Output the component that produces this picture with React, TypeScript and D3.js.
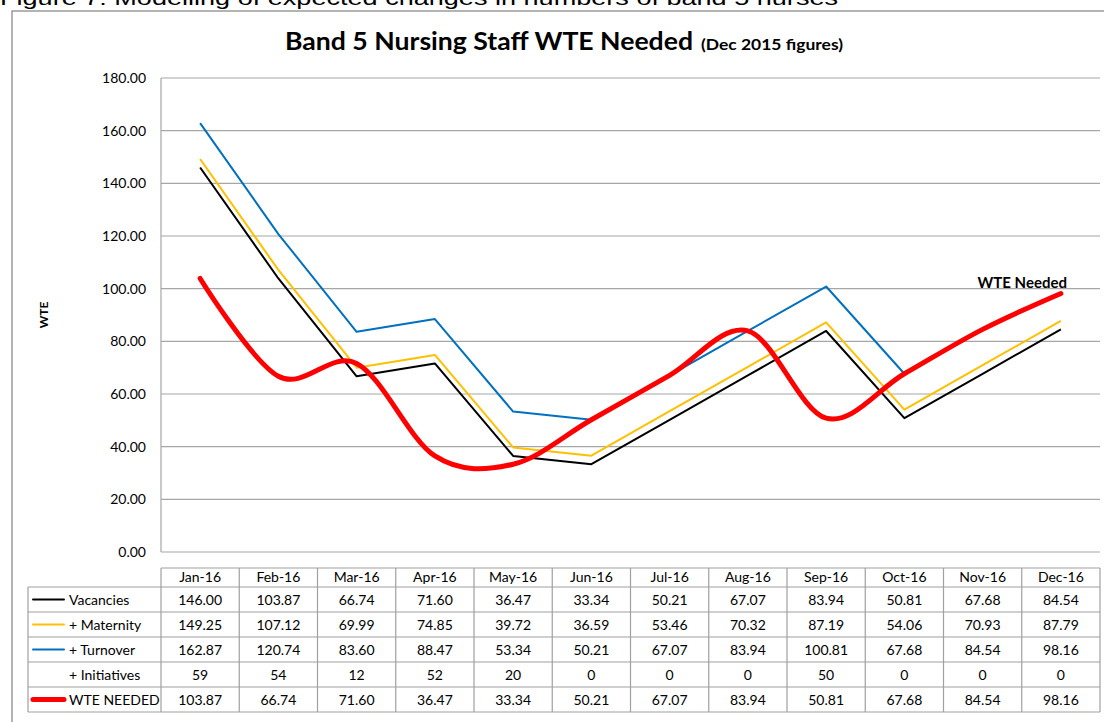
import React from "react";
import * as d3 from "d3";

const months = ["Jan-16","Feb-16","Mar-16","Apr-16","May-16","Jun-16","Jul-16","Aug-16","Sep-16","Oct-16","Nov-16","Dec-16"];
const vacancies = [146.00,103.87,66.74,71.60,36.47,33.34,50.21,67.07,83.94,50.81,67.68,84.54];
const maternity = [149.25,107.12,69.99,74.85,39.72,36.59,53.46,70.32,87.19,54.06,70.93,87.79];
const turnover = [162.87,120.74,83.60,88.47,53.34,50.21,67.07,83.94,100.81,67.68,84.54,98.16];
const initiatives = [59,54,12,52,20,0,0,0,50,0,0,0];
const wteNeeded = [103.87,66.74,71.60,36.47,33.34,50.21,67.07,83.94,50.81,67.68,84.54,98.16];
const yTicks = [0,20,40,60,80,100,120,140,160,180];

const FONT = "Lato, 'Open Sans', sans-serif";
const GRID = "#a6a6a6";
const BORDER = "#a0a0a0";

export default function App() {
  const x = d3.scaleBand<string>().domain(months).range([161, 1100]);
  const y = d3.scaleLinear().domain([0, 180]).range([552, 78]);
  const cx = (m: string) => (x(m) as number) + x.bandwidth() / 2;

  const straight = d3.line<number>().x((_, i) => cx(months[i])).y((d) => y(d));
  const smooth = d3.line<number>().x((_, i) => cx(months[i])).y((d) => y(d)).curve(d3.curveCardinal.tension(0));

  const rows = [
    { label: "Vacancies", data: vacancies, fmt: d3.format(".2f"), color: "#000000", w: 2 },
    { label: "+ Maternity", data: maternity, fmt: d3.format(".2f"), color: "#FFC000", w: 2 },
    { label: "+ Turnover", data: turnover, fmt: d3.format(".2f"), color: "#0070C0", w: 2 },
    { label: "+ Initiatives", data: initiatives, fmt: d3.format("d"), color: null, w: 0 },
    { label: "WTE NEEDED", data: wteNeeded, fmt: d3.format(".2f"), color: "#FF0000", w: 5 },
  ];
  const headerTop = 568, headerBottom = 587, rowH = 25;
  const left = 161, right = 1100, legLeft = 28;

  return (
    <svg width={1104} height={722} style={{ position: "absolute", left: 0, top: 0, background: "#fff" }}>
      <rect x={0} y={0} width={1104} height={722} fill="#fff" />
      <text x={0} y={5} fontFamily="'Liberation Sans', Arial, sans-serif" fontSize={21} fill="#000" textLength={838} lengthAdjust="spacingAndGlyphs">Figure 7: Modelling of expected changes in numbers of band 5 nurses</text>
      <rect x={12} y={11} width={1100} height={730} fill="none" stroke="#8c8c8c" strokeWidth={1.3} />

      <text y={50} fontFamily={FONT} fontWeight="bold" fill="#000">
        <tspan x={285} fontSize={25} textLength={408} lengthAdjust="spacingAndGlyphs">Band 5 Nursing Staff WTE Needed</tspan>
        <tspan x={701} fontSize={16} textLength={142} lengthAdjust="spacingAndGlyphs">(Dec 2015 figures)</tspan>
      </text>

      {yTicks.map((t) => (
        <g key={t}>
          <line x1={left} x2={right} y1={y(t)} y2={y(t)} stroke={GRID} strokeWidth={1.2} />
          <text x={146} y={y(t) + 5} textAnchor="end" fontFamily={FONT} fontSize={14} fill="#000">{d3.format(".2f")(t)}</text>
        </g>
      ))}
      <line x1={left} x2={left} y1={y(180)} y2={y(0)} stroke={GRID} strokeWidth={1.2} />

      <text transform="translate(48,315) rotate(-90)" textAnchor="middle" fontFamily={FONT} fontWeight="bold" fontSize={12} fill="#000">WTE</text>

      <path d={straight(vacancies) || ""} fill="none" stroke="#000" strokeWidth={2} strokeLinejoin="round" />
      <path d={straight(maternity) || ""} fill="none" stroke="#FFC000" strokeWidth={2} strokeLinejoin="round" />
      <path d={straight(turnover) || ""} fill="none" stroke="#0070C0" strokeWidth={2} strokeLinejoin="round" />
      <path d={smooth(wteNeeded) || ""} fill="none" stroke="#FF0000" strokeWidth={5} strokeLinecap="round" strokeLinejoin="round" />

      <text x={1067} y={288} textAnchor="end" fontFamily={FONT} fontWeight="bold" fontSize={15} fill="#000">WTE Needed</text>

      {/* table */}
      <g fontFamily={FONT} fontSize={14} fill="#000">
        <line x1={left} x2={right} y1={headerTop} y2={headerTop} stroke={BORDER} strokeWidth={1.2} />
        {months.map((m) => (
          <text key={m} x={cx(m)} y={headerBottom - 5} textAnchor="middle">{m}</text>
        ))}
        {d3.range(rows.length + 1).map((i) => (
          <line key={"h" + i} x1={legLeft} x2={right} y1={headerBottom + i * rowH} y2={headerBottom + i * rowH} stroke={BORDER} strokeWidth={1.2} />
        ))}
        {months.map((m) => (
          <line key={"v" + m} x1={x(m) as number} x2={x(m) as number} y1={headerTop} y2={headerBottom + rows.length * rowH} stroke={BORDER} strokeWidth={1.2} />
        ))}
        <line x1={right} x2={right} y1={headerTop} y2={headerBottom + rows.length * rowH} stroke={BORDER} strokeWidth={1.2} />
        <line x1={legLeft} x2={legLeft} y1={headerBottom} y2={headerBottom + rows.length * rowH} stroke={BORDER} strokeWidth={1.2} />
        {rows.map((r, i) => {
          const cy = headerBottom + i * rowH + rowH / 2;
          return (
            <g key={r.label}>
              {r.color && <line x1={33} x2={64} y1={cy} y2={cy} stroke={r.color} strokeWidth={r.w} strokeLinecap="round" />}
              <text x={69} y={cy + 5}>{r.label}</text>
              {r.data.map((v, j) => (
                <text key={j} x={cx(months[j])} y={cy + 5} textAnchor="middle">{r.fmt(v)}</text>
              ))}
            </g>
          );
        })}
      </g>
    </svg>
  );
}
